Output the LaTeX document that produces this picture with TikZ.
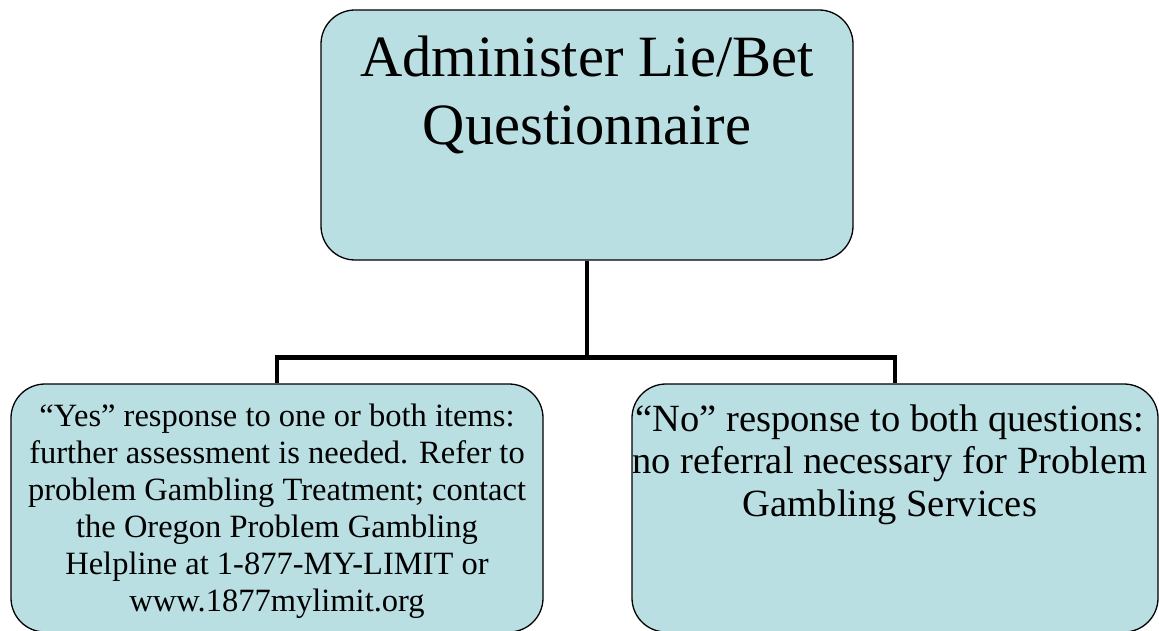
\documentclass[tikz,border=0pt]{standalone}
\usepackage{fontspec}
\setmainfont{Liberation Serif}
\usetikzlibrary{positioning}
\definecolor{bleuclair}{RGB}{186,223,227}
\begin{document}
\begin{tikzpicture}[x=1pt,y=-1pt]
% Styles
\tikzstyle{boite}=[draw=black,line width=1.3pt,fill=bleuclair,rounded corners=34pt,inner sep=0pt]
\tikzstyle{liaison}=[line width=4.5pt]
\tikzstyle{texte}=[inner sep=0pt,align=center]
% Dimensions
\def\Lrg{532}
\def\HtQ{250}
\def\HtR{248}
\def\Chute{97}
% Cadre de l'image
\useasboundingbox (0,0) rectangle (1159,631);
% Boites
\node[boite,minimum width=\Lrg pt,minimum height=\HtQ pt] (questionnaire) at (587,135) {};
\node[boite,minimum width=\Lrg pt,minimum height=\HtR pt] (oui) at (277,508) {};
\node[boite,minimum width=526pt,minimum height=\HtR pt] (non) at (895,508) {};
% Liaisons
\coordinate[below=\Chute pt of questionnaire.south] (embranchement);
\draw[liaison] (questionnaire.south) -- (embranchement);
\draw[liaison] (oui.north) |- (embranchement) -| (non.north);
% Textes
\node[texte,font=\fontsize{58.5}{68}\selectfont,below=26pt of questionnaire.north] (titre)
  {Administer Lie/Bet\\Questionnaire};
\node[texte,font=\fontsize{32.5}{37}\selectfont,below=20pt of oui.north] (texteoui)
  {“Yes” response to one or both items:\\further assessment is needed. Refer to\\problem Gambling Treatment; contact\\the Oregon Problem Gambling\\Helpline at 1-877-MY-LIMIT or\\www.1877mylimit.org};
\node[texte,font=\fontsize{38.5}{42.5}\selectfont,below=21pt of non.north,xshift=-5pt] (textenon)
  {“No” response to both questions:\\no referral necessary for Problem\\Gambling Services};
\end{tikzpicture}
\end{document}
